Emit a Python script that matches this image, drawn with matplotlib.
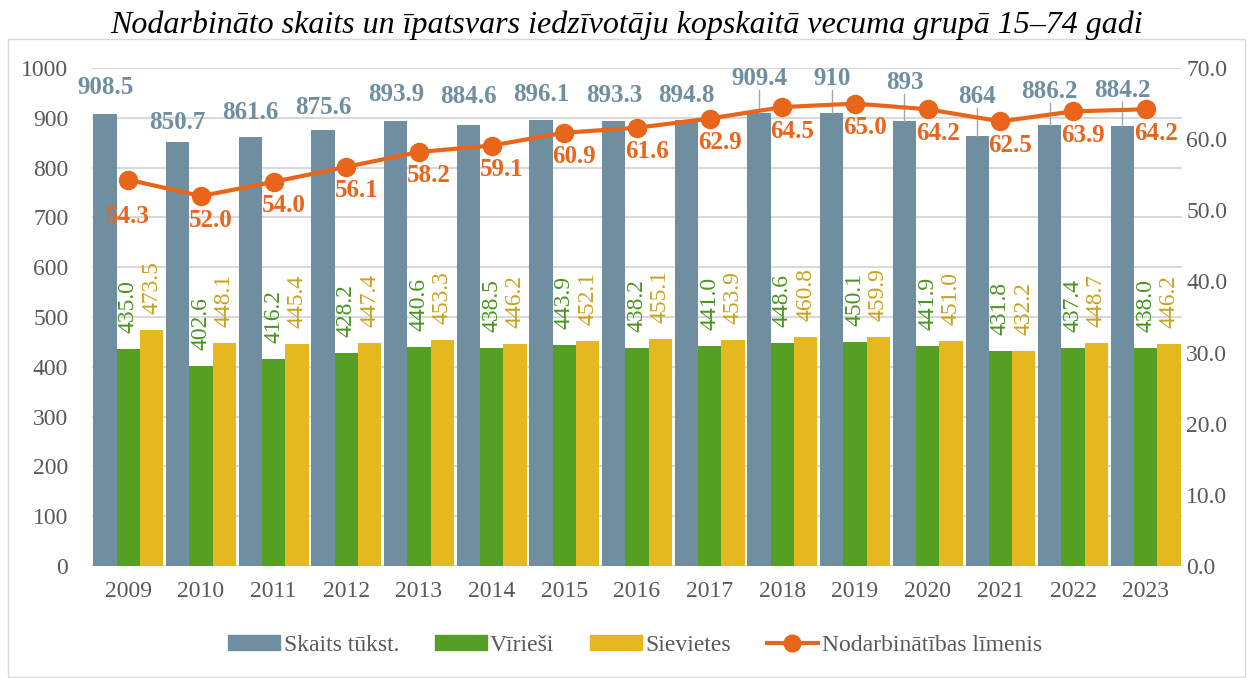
import numpy as np
import matplotlib
matplotlib.use('Agg')
import matplotlib.pyplot as plt
from matplotlib.lines import Line2D
from matplotlib.patches import Patch, Rectangle

plt.rcParams['font.family'] = ['Liberation Serif', 'DejaVu Serif']

years = ['2009', '2010', '2011', '2012', '2013', '2014', '2015', '2016',
         '2017', '2018', '2019', '2020', '2021', '2022', '2023']
total = [908.5, 850.7, 861.6, 875.6, 893.9, 884.6, 896.1, 893.3,
         894.8, 909.4, 910, 893, 864, 886.2, 884.2]
total_labels = ['908.5', '850.7', '861.6', '875.6', '893.9', '884.6', '896.1', '893.3',
                '894.8', '909.4', '910', '893', '864', '886.2', '884.2']
men = [435.0, 402.6, 416.2, 428.2, 440.6, 438.5, 443.9, 438.2,
       441.0, 448.6, 450.1, 441.9, 431.8, 437.4, 438.0]
women = [473.5, 448.1, 445.4, 447.4, 453.3, 446.2, 452.1, 455.1,
         453.9, 460.8, 459.9, 451.0, 432.2, 448.7, 446.2]
rate = [54.3, 52.0, 54.0, 56.1, 58.2, 59.1, 60.9, 61.6,
        62.9, 64.5, 65.0, 64.2, 62.5, 63.9, 64.2]

# where the total labels sit (left-axis units), Excel moved some of them
total_label_y = [960, 891, 910, 920, 946, 942, 946, 944,
                 944, 978, 978, 970, 942, 952, 954]

c_total = '#6F8FA0'
c_men = '#55A022'
c_women = '#E6B820'
c_rate = '#E8651A'
c_grid = '#D9D9D9'
c_tick = '#595959'

fig = plt.figure(figsize=(12.53, 6.78), dpi=100)
ax = fig.add_axes([0.0734, 0.1652, 0.87, 0.7345])
ax2 = ax.twinx()

x = np.arange(len(years))
w = 0.32

ax.bar(x - w, total, w, color=c_total, zorder=2)
ax.bar(x, men, w, color=c_men, zorder=2)
ax.bar(x + w, women, w, color=c_women, zorder=2)

ax.set_xlim(-0.5, len(years) - 0.5)
ax.set_ylim(0, 1000)
ax.set_yticks(np.arange(0, 1001, 100))
ax.yaxis.grid(True, color=c_grid, lw=1.5, zorder=0)
ax.set_axisbelow(True)
ax.set_xticks(x)
ax.set_xticklabels(years)
ax.tick_params(axis='both', length=0, labelsize=17, labelcolor=c_tick)
ax.tick_params(axis='x', pad=11)
ax.tick_params(axis='y', pad=17)
for s in ax.spines.values():
    s.set_visible(False)

ax2.set_ylim(0, 70)
ax2.set_yticks(np.arange(0, 71, 10))
ax2.set_yticklabels(['%.1f' % v for v in np.arange(0, 71, 10)])
ax2.tick_params(axis='y', length=0, labelsize=17, labelcolor=c_tick, pad=3)
for s in ax2.spines.values():
    s.set_visible(False)

ax2.plot(x, rate, color=c_rate, lw=3, marker='o', ms=13, zorder=5)

# labels
for i in range(len(years)):
    ax.text(x[i] - w, total_label_y[i], total_labels[i], ha='center', va='center',
            fontsize=18, fontweight='bold', color=c_total, zorder=6)
    if i >= 9:
        ax.plot([x[i] - w, x[i] - w], [total[i], total_label_y[i] - 23],
                color='#A6A6A6', lw=1, zorder=3)
    ax.text(x[i], men[i] + 32, '%.1f' % men[i], rotation=90, ha='center', va='bottom',
            fontsize=17, color='#4A9420', zorder=6)
    ax.text(x[i] + w, women[i] + 32, '%.1f' % women[i], rotation=90, ha='center', va='bottom',
            fontsize=17, color='#C9A21E', zorder=6)
    off = (0, -37) if i == 0 else (10, -24)
    ax2.annotate('%.1f' % rate[i], (x[i], rate[i]), xytext=off, textcoords='offset pixels',
                 ha='center', va='center', fontsize=18, fontweight='bold', color=c_rate, zorder=7)

fig.suptitle('Nodarbināto skaits un īpatsvars iedzīvotāju kopskaitā vecuma grupā 15–74 gadi',
             x=0.5, y=0.985, fontsize=23, style='italic', va='top')

handles = [Patch(color=c_total), Patch(color=c_men), Patch(color=c_women),
           Line2D([], [], color=c_rate, lw=3, marker='o', ms=12)]
names = ['Skaits tūkst.', 'Vīrieši', 'Sievietes', 'Nodarbinātības līmenis']
leg = fig.legend(handles, names, loc='center', bbox_to_anchor=(0.507, 0.048), ncol=4,
                 frameon=False, fontsize=17, handlelength=2.2, handleheight=0.6,
                 handletextpad=0.15, columnspacing=1.5)
for t in leg.get_texts():
    t.set_color(c_tick)

fig.patches.append(Rectangle((0.006, 0.002), 0.988, 0.94, transform=fig.transFigure,
                             fill=False, edgecolor='#D9D9D9', lw=1))

fig.savefig('out.png', dpi=100)
